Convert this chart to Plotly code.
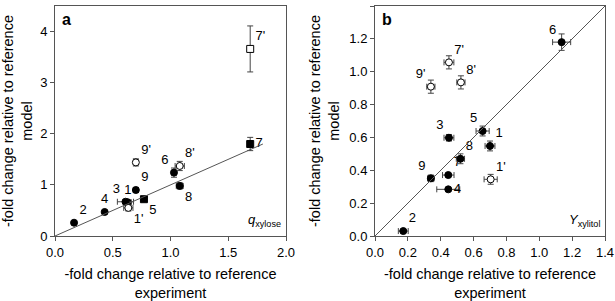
import plotly.graph_objects as go

# panel a: q_xylose
a_labels = ["1", "2", "3", "4", "5", "6", "7", "8", "9", "1'", "7'", "8'", "9'"]
a_x = [0.63, 0.165, 0.61, 0.43, 0.77, 1.03, 1.69, 1.08, 0.70, 0.635, 1.69, 1.08, 0.70]
a_y = [0.66, 0.26, 0.67, 0.47, 0.72, 1.24, 1.80, 0.98, 0.90, 0.55, 3.66, 1.37, 1.44]
a_xerr = [0.03, 0.0, 0.07, 0.0, 0.02, 0.02, 0.0, 0.03, 0.02, 0.04, 0.0, 0.04, 0.02]
a_yerr = [0.03, 0.0, 0.03, 0.0, 0.03, 0.09, 0.13, 0.06, 0.05, 0.06, 0.45, 0.09, 0.07]
a_filled = [1, 1, 1, 1, 1, 1, 1, 1, 1, 0, 0, 0, 0]
a_pos = ["top center", "top right", "top left", "top center", "bottom right", "top left",
         "middle right", "bottom right", "top right", "bottom right", "top right",
         "top right", "top right"]

# panel b: Y_xylitol
b_labels = ["1", "2", "3", "4", "5", "6", "7", "8", "9", "1'", "7'", "8'", "9'"]
b_x = [0.70, 0.172, 0.45, 0.446, 0.655, 1.136, 0.446, 0.52, 0.34, 0.704, 0.45, 0.523, 0.34]
b_y = [0.548, 0.03, 0.598, 0.284, 0.639, 1.18, 0.371, 0.47, 0.351, 0.345, 1.057, 0.935, 0.909]
b_xerr = [0.03, 0.03, 0.03, 0.07, 0.04, 0.055, 0.035, 0.025, 0.02, 0.04, 0.03, 0.025, 0.025]
b_yerr = [0.03, 0.01, 0.02, 0.01, 0.03, 0.05, 0.01, 0.03, 0.02, 0.03, 0.04, 0.04, 0.04]
b_filled = [1, 1, 1, 1, 1, 1, 1, 1, 1, 0, 0, 0, 0]
b_pos = ["top right", "top right", "top left", "middle right", "top left", "top left",
         "top right", "top right", "top left", "top right", "top right", "top right",
         "top left"]

FONT = "Liberation Sans, Arial, sans-serif"
ERR = "#444"

fig = go.Figure()


def add_panel(labels, xs, ys, xe, ye, filled, pos, xa, ya, square=()):
    for i in range(len(xs)):
        sym = "square" if labels[i] in square else "circle"
        fig.add_trace(go.Scatter(
            x=[xs[i]], y=[ys[i]], mode="markers+text", text=[labels[i]],
            textposition=pos[i], textfont=dict(size=13, color="black", family=FONT),
            marker=dict(size=7, symbol=sym, color="black" if filled[i] else "white",
                        line=dict(color="black", width=1)),
            error_x=dict(type="data", array=[xe[i]], visible=xe[i] > 0,
                         color=ERR, thickness=1, width=3),
            error_y=dict(type="data", array=[ye[i]], visible=ye[i] > 0,
                         color=ERR, thickness=1, width=3),
            xaxis=xa, yaxis=ya, showlegend=False, cliponaxis=False,
        ))


add_panel(a_labels, a_x, a_y, a_xerr, a_yerr, a_filled, a_pos, "x", "y",
          square=("5", "7", "7'"))
add_panel(b_labels, b_x, b_y, b_xerr, b_yerr, b_filled, b_pos, "x2", "y2")

# reference lines y = x
fig.add_trace(go.Scatter(x=[0, 1.8], y=[0, 1.8], mode="lines",
                         line=dict(color="#555", width=1), xaxis="x", yaxis="y",
                         showlegend=False, hoverinfo="skip"))
fig.add_trace(go.Scatter(x=[0, 1.4], y=[0, 1.4], mode="lines",
                         line=dict(color="#555", width=1), xaxis="x2", yaxis="y2",
                         showlegend=False, hoverinfo="skip"))

axis_common = dict(showline=True, linecolor="#555", linewidth=1, mirror=True,
                   ticks="outside", ticklen=4, tickcolor="#555", showgrid=False,
                   zeroline=False, tickfont=dict(size=13, color="black", family=FONT),
                   automargin=False)
xtitle = dict(text="-fold change relative to reference<br>experiment",
              font=dict(size=14.5, color="black", family=FONT), standoff=10)
ytitle = dict(text="-fold change relative to reference<br>model",
              font=dict(size=14.5, color="black", family=FONT), standoff=6)

fig.update_layout(
    width=615, height=301,
    margin=dict(l=0, r=0, t=0, b=0),
    paper_bgcolor="white", plot_bgcolor="white",
    font=dict(family=FONT, color="black"),
    xaxis=dict(domain=[55 / 615, 286 / 615], range=[0, 2.0], tickvals=[0, 0.5, 1.0, 1.5, 2.0],
               tickformat=".1f", title=xtitle, anchor="y", **axis_common),
    yaxis=dict(domain=[65 / 301, 295 / 301], range=[0, 4.5], tickvals=[0, 1, 2, 3, 4],
               title=ytitle, anchor="x", **axis_common),
    xaxis2=dict(domain=[375 / 615, 605 / 615], range=[0, 1.4],
                tickvals=[0, 0.2, 0.4, 0.6, 0.8, 1.0, 1.2, 1.4], tickformat=".1f",
                title=xtitle, anchor="y2", **axis_common),
    yaxis2=dict(domain=[65 / 301, 295 / 301], range=[0, 1.4],
                tickvals=[0, 0.2, 0.4, 0.6, 0.8, 1.0, 1.2, 1.4], tickformat=".1f",
                title=ytitle, anchor="x2", **axis_common),
)

fig.add_annotation(text="<b>a</b>", xref="x domain", yref="y domain", x=0.02, y=0.985,
                   xanchor="left", yanchor="top", showarrow=False,
                   font=dict(size=16, family=FONT, color="black"))
fig.add_annotation(text="<b>b</b>", xref="x2 domain", yref="y2 domain", x=0.02, y=0.985,
                   xanchor="left", yanchor="top", showarrow=False,
                   font=dict(size=16, family=FONT, color="black"))
fig.add_annotation(text="<i>q</i><sub>xylose</sub>", xref="x domain", yref="y domain",
                   x=0.985, y=0.02, xanchor="right", yanchor="bottom", showarrow=False,
                   font=dict(size=13, family=FONT, color="black"))
fig.add_annotation(text="<i>Y</i><sub>xylitol</sub>", xref="x2 domain", yref="y2 domain",
                   x=0.985, y=0.02, xanchor="right", yanchor="bottom", showarrow=False,
                   font=dict(size=13, family=FONT, color="black"))

# the page body has a default 8px margin; drop it so the figure fills the window
fig.write_html("out.html", config={"displayModeBar": False},
               post_script="document.body.style.margin='0px';")
